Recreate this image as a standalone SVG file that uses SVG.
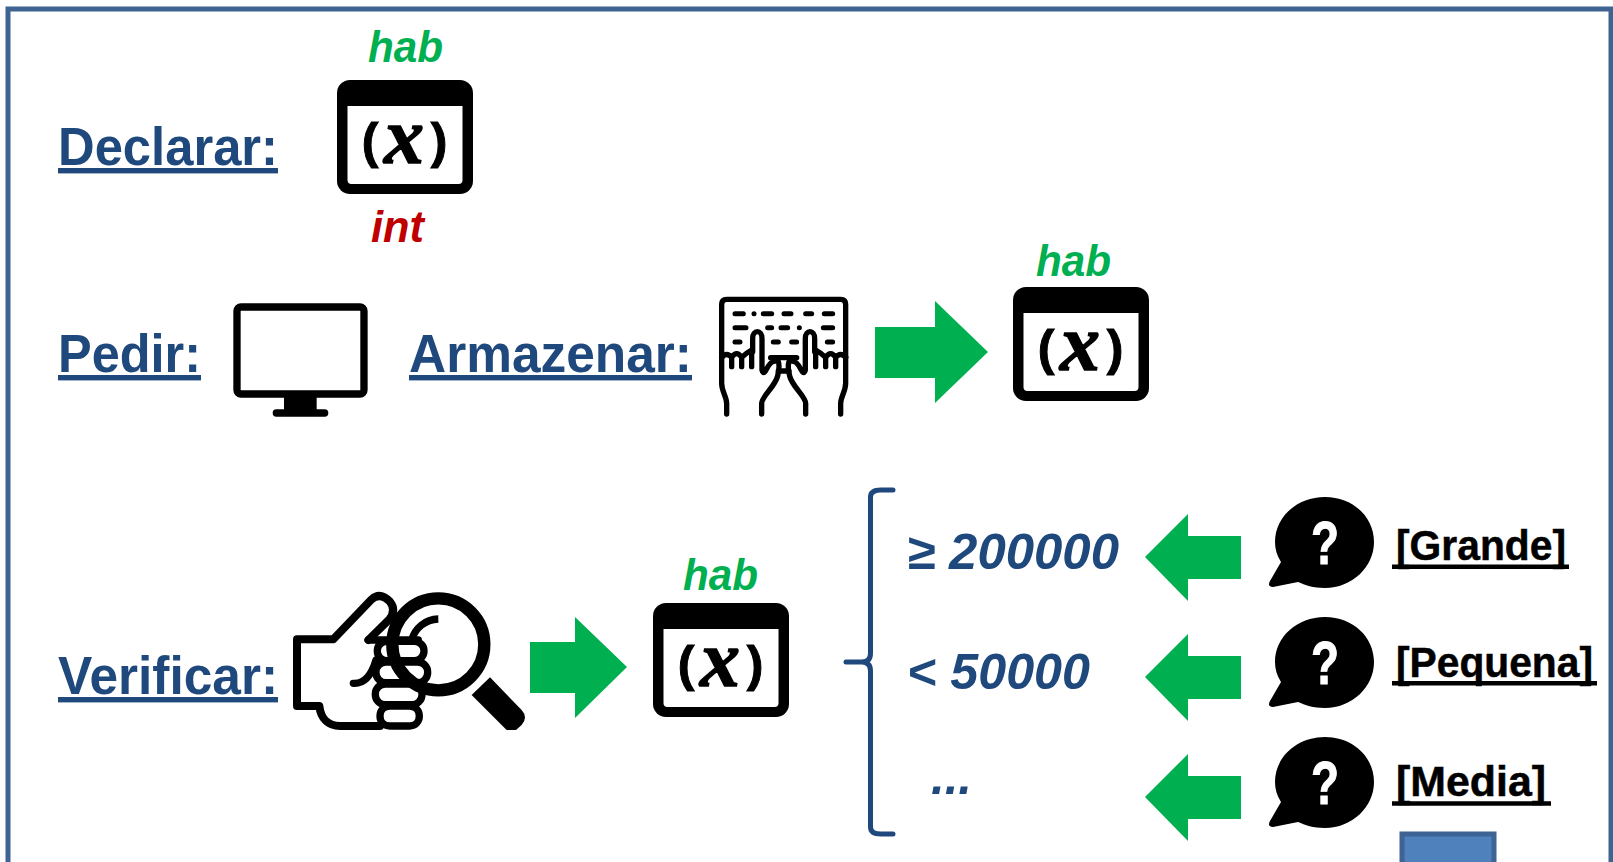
<svg xmlns="http://www.w3.org/2000/svg" width="1613" height="862" viewBox="0 0 1613 862">
<style>
.h{font-family:"Liberation Sans",Arial,sans-serif;font-weight:700;font-size:54px;fill:#1F497D;text-decoration:underline;text-decoration-thickness:4px;text-decoration-skip-ink:none}
.v{font-family:"Liberation Sans",Arial,sans-serif;font-weight:700;font-style:italic;font-size:44px}
.c{font-family:"Liberation Sans",Arial,sans-serif;font-weight:700;font-style:italic;font-size:50px;fill:#1F497D}
.l{font-family:"Liberation Sans",Arial,sans-serif;font-weight:700;font-size:43px;fill:#000;stroke:#000;stroke-width:.5}
.u{stroke:#000;stroke-width:4.500;fill:none}
.g{fill:#00B050}
.k{fill:none;stroke:#000;stroke-linecap:round;stroke-linejoin:round}
</style>
<defs>
<g id="var">
<rect width="136" height="114" rx="13" fill="#000"/>
<path d="M10.500 26H125.500V100a4 4 0 0 1-4 4H14.500a4 4 0 0 1-4-4Z" fill="#fff"/>
<text x="33" y="78" text-anchor="middle" font-family="Liberation Sans,sans-serif" font-weight="700" font-size="50" stroke="#000" stroke-width="1">(</text>
<text x="67" y="83" text-anchor="middle" font-family="Liberation Serif,serif" font-weight="700" font-style="italic" font-size="80" stroke="#000" stroke-width="1.500">x</text>
<text x="102" y="78" text-anchor="middle" font-family="Liberation Sans,sans-serif" font-weight="700" font-size="50" stroke="#000" stroke-width="1">)</text>
</g>
<g id="bubble">
<path d="M-50 0C-50-25-28-45 0-45S49-25 49 0 27 46 0 46C-12 46-20 43-27 40L-52 45Q-58 45-55 39L-44 20C-48 14-50 7-50 0Z" fill="#000"/>
<text x="0" y="22" text-anchor="middle" textLength="28" lengthAdjust="spacingAndGlyphs" font-family="Liberation Sans,sans-serif" font-weight="700" font-size="62" fill="#fff" stroke="#fff" stroke-width="1">?</text>
</g>
<g id="hand" class="k" stroke-width="16">
<path d="M125 262V340C125 365 140 380 140 400V432"/>
<path d="M125 262Q140 245 155 262V290M155 262Q170 240 185 262V290M185 262Q200 248 215 240V290"/>
<path d="M218 245V205C218 178 246 178 246 205V300Q250 315 258 300C268 280 278 268 295 275Q300 290 293 318C285 350 245 380 245 400V432"/>
</g>
</defs>
<g id="frame">
<rect x="8" y="9" width="1603" height="900" fill="#fff" stroke="#3F6392" stroke-width="5"/>
</g>
<g id="connectors">
<path class="g" d="M875 327H935V301L988 352 935 403V378H875Z"/>
<path class="g" d="M530 642H575V617L627 667 575 718V693H530Z"/>
<path class="g" d="M1241 536H1188V514L1145 557 1188 601V579H1241Z"/>
<path class="g" d="M1241 656H1188V634L1145 677 1188 721V699H1241Z"/>
<path class="g" d="M1241 776H1188V754L1145 797 1188 841V819H1241Z"/>
<path id="brace" d="M893 490H881Q870.500 490 870.500 497V653Q870.500 662 862 662H846M862 662Q870.500 662 870.500 671V827Q870.500 834 881 834H893" fill="none" stroke="#1F497D" stroke-width="5" stroke-linecap="round"/>
</g>
<g id="declarar">
<text class="h" x="58" y="165" textLength="220" lengthAdjust="spacingAndGlyphs">Declarar:</text>
<text class="v" x="368" y="62" textLength="75" lengthAdjust="spacingAndGlyphs" fill="#00B050">hab</text>
<use href="#var" x="337" y="80"/>
<text class="v" x="371" y="242" textLength="53" lengthAdjust="spacingAndGlyphs" fill="#C00000">int</text>
</g>
<g id="pedir">
<text class="h" x="58" y="372" textLength="143" lengthAdjust="spacingAndGlyphs">Pedir:</text>
<g transform="translate(210 280) scale(.3333)">
<rect x="81" y="81" width="381" height="261" rx="12" fill="#fff" stroke="#000" stroke-width="22"/>
<rect x="222" y="350" width="98" height="44" fill="#000"/>
<rect x="188" y="388" width="167" height="22" rx="11" fill="#000"/>
</g>
</g>
<g id="armazenar">
<text class="h" x="409" y="372" textLength="283" lengthAdjust="spacingAndGlyphs">Armazenar:</text>
<g id="keyboard" transform="translate(680 270) scale(.3333)">
<path class="k" stroke-width="16" d="M125 262V103Q125 88 140 88H482Q497 88 497 103V262"/>
<path class="k" stroke-width="15" d="M165 131H190M222 131H222.100M250 131H275M312 131H333M377 131H395M433 131H458M165 173H198M263 173H275M303 173H323M358 173H358.100M430 173H458M165 216H180M280 216H295M335 216H350M442 216H458"/>
<use href="#hand"/>
<use href="#hand" transform="translate(622 0) scale(-1 1)"/>
<path class="k" stroke-width="16" d="M272 263H350M295 303H327"/>
</g>
<text class="v" x="1036" y="276" textLength="75" lengthAdjust="spacingAndGlyphs" fill="#00B050">hab</text>
<use href="#var" x="1013" y="287"/>
</g>
<g id="verificar">
<text class="h" x="58" y="694" textLength="220" lengthAdjust="spacingAndGlyphs">Verificar:</text>
<g id="magnifier" transform="translate(270 560) scale(.3333)">
<path class="k" stroke-width="24" d="M295 240L358 178Q380 150 360 125Q330 95 305 118L190 238H81V438H148C152 475 175 498 210 498H330"/>
<path class="k" stroke-width="22" d="M250 370C285 372 305 345 318 300M295 240H445"/>
<rect class="k" x="322" y="244" width="140" height="58" rx="28" stroke-width="22"/>
<rect class="k" x="318" y="306" width="155" height="62" rx="30" stroke-width="22"/>
<rect class="k" x="316" y="372" width="140" height="62" rx="30" stroke-width="22"/>
<path class="k" stroke-width="22" d="M360 438H418C458 438 458 498 418 498H360C320 498 320 438 360 438Z"/>
<circle cx="505" cy="253" r="138" fill="none" stroke="#000" stroke-width="37"/>
<path d="M505 177C465 178 435 205 425 240" fill="none" stroke="#000" stroke-width="22"/>
<path d="M660 352L755 450Q775 472 755 495L738 510H710L605 405Z" fill="#000"/>
</g>
<text class="v" x="683" y="590" textLength="75" lengthAdjust="spacingAndGlyphs" fill="#00B050">hab</text>
<use href="#var" x="653" y="603"/>
</g>
<g id="grande">
<text class="c" x="907" y="569" textLength="212" lengthAdjust="spacingAndGlyphs">≥ 200000</text>
<use href="#bubble" x="1325" y="542"/>
<text class="l" x="1396" y="560" textLength="170" lengthAdjust="spacingAndGlyphs">[Grande]</text>
<path class="u" d="M1392 566.700H1569"/>
</g>
<g id="pequena">
<text class="c" x="907" y="689" textLength="183" lengthAdjust="spacingAndGlyphs">&lt; 50000</text>
<use href="#bubble" x="1325" y="662"/>
<text class="l" x="1396" y="677" textLength="197" lengthAdjust="spacingAndGlyphs">[Pequena]</text>
<path class="u" d="M1392 683.300H1597"/>
</g>
<g id="media">
<text class="c" x="931" y="794" textLength="41" lengthAdjust="spacingAndGlyphs">...</text>
<use href="#bubble" x="1325" y="782"/>
<text class="l" x="1396" y="796" textLength="150" lengthAdjust="spacingAndGlyphs">[Media]</text>
<path class="u" d="M1392 803.500H1551"/>
</g>
<g id="box">
<rect x="1402" y="834" width="92" height="60" fill="#4F81BD" stroke="#3F6392" stroke-width="5"/>
</g>
</svg>
